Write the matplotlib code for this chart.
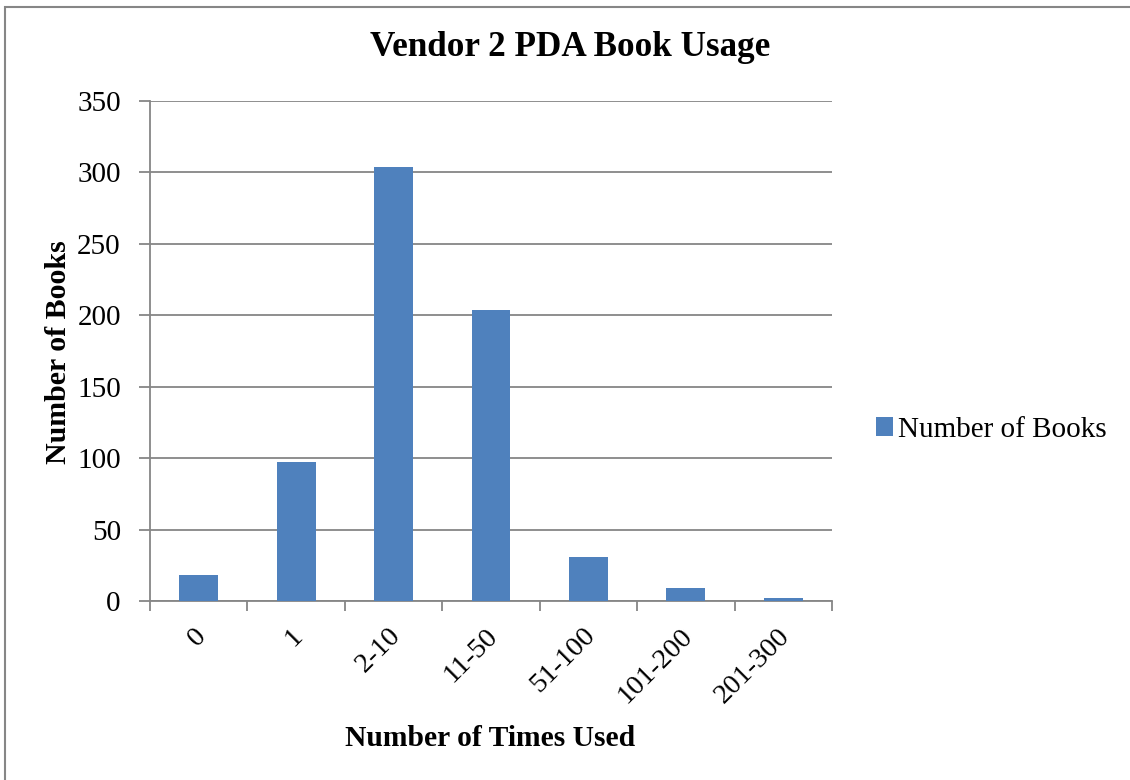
import matplotlib
matplotlib.use("Agg")
import matplotlib.pyplot as plt
import matplotlib.transforms as mtransforms
from matplotlib.patches import Rectangle

# data
categories = ["0", "1", "2-10", "11-50", "51-100", "101-200", "201-300"]
books = [18, 97, 304, 204, 31, 9, 2]

plt.rcParams['font.family'] = ['Liberation Serif', 'DejaVu Serif']

fig = plt.figure(figsize=(11.3, 7.8), dpi=100)
W, H = 1130, 780
# plot area in pixels: left 150, right 832, top 101, bottom 601
ax = fig.add_axes([150 / W, 1 - 601 / H, (832 - 150) / W, (601 - 101) / H])

xs = range(len(categories))
ax.bar(xs, books, width=0.4, color="#4F81BD", label="Number of Books", zorder=3)

ax.set_xlim(-0.5, len(categories) - 0.5)
ax.set_ylim(0, 350)
ax.set_yticks(range(0, 351, 50))
ax.grid(axis="y", color="#868686", linewidth=1.3, zorder=0)

# x ticks: labels at centres, tick marks at category boundaries
ax.set_xticks(list(xs))
ax.set_xticklabels(categories, rotation=45, fontsize=20.5)
ax.set_xticks([i - 0.5 for i in range(len(categories) + 1)], minor=True)
ax.tick_params(axis="x", which="major", length=0, pad=16)
ax.tick_params(axis="x", which="minor", length=7, width=1.3, color="#868686", direction="out")
ax.tick_params(axis="y", length=8, width=1.3, color="#868686", labelsize=21, pad=13)
shift = mtransforms.ScaledTranslation(0.12, 0, fig.dpi_scale_trans)
for lab in ax.get_xticklabels():
    lab.set_ha("right")
    lab.set_va("top")
    lab.set_transform(lab.get_transform() + shift)

for side in ["top", "right"]:
    ax.spines[side].set_visible(False)
for side in ["left", "bottom"]:
    ax.spines[side].set_color("#868686")
    ax.spines[side].set_linewidth(1.3)

fig.text(570 / W, 1 - 48 / H, "Vendor 2 PDA Book Usage", fontsize=25.3,
         fontweight="bold", ha="center", va="center")
fig.text(490 / W, 1 - 738 / H, "Number of Times Used", fontsize=21.3,
         fontweight="bold", ha="center", va="center")
fig.text(58 / W, 1 - 352 / H, "Number of Books", fontsize=21.5,
         fontweight="bold", ha="center", va="center", rotation=90)

fig.legend(loc="center left", bbox_to_anchor=(864 / W, 1 - 430 / H), frameon=False,
           fontsize=21, handlelength=0.6, handleheight=0.6, handletextpad=0.15,
           borderaxespad=0)

# outer chart border
fig.patches.append(Rectangle((5 / W, -0.1), 1.2, 1 - 7 / H + 0.1, transform=fig.transFigure,
                             fill=False, edgecolor="#868686", linewidth=1.5))

fig.savefig("out.png", dpi=100)
